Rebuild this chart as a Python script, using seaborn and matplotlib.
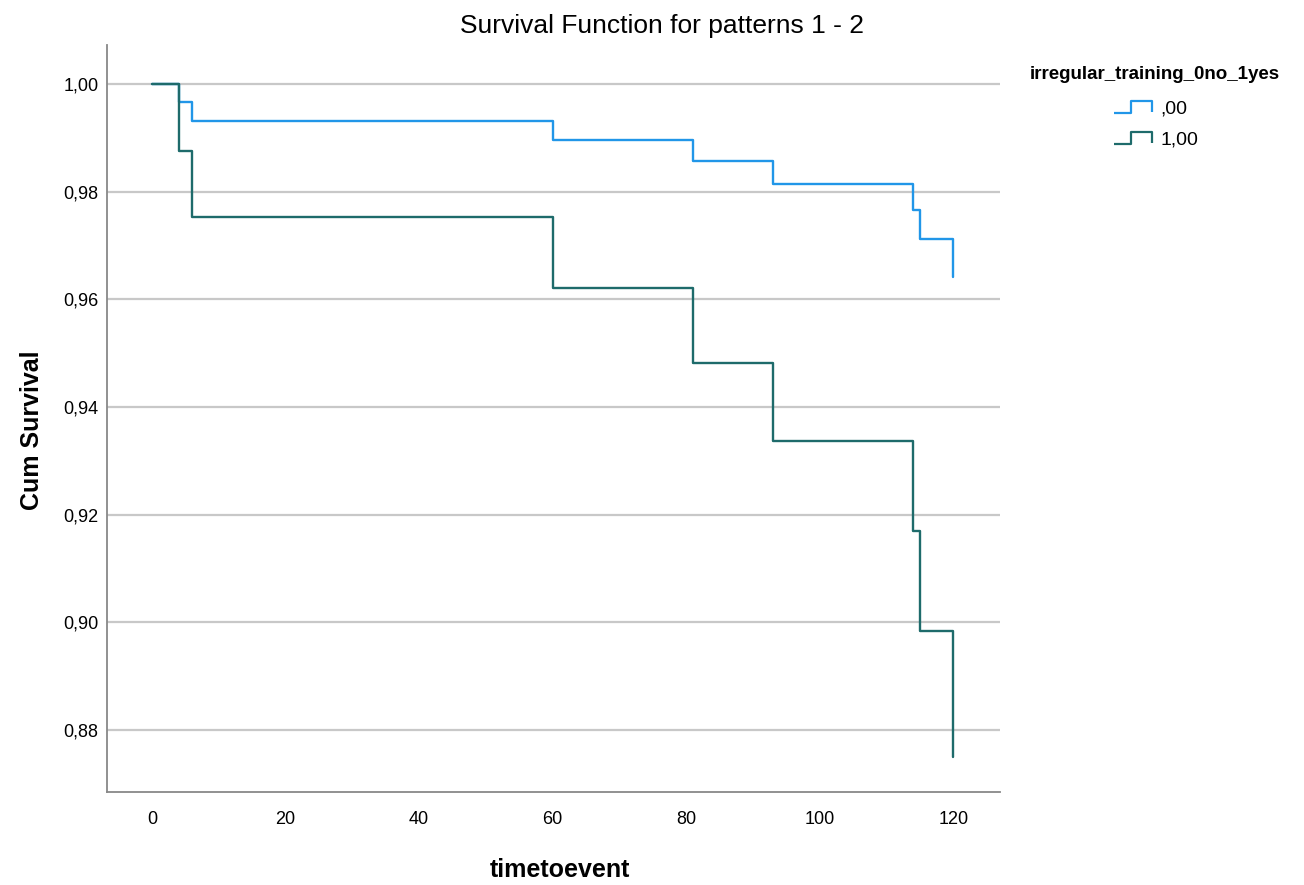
import seaborn as sns
import matplotlib.pyplot as plt
import pandas as pd
import numpy as np
from matplotlib.path import Path
from matplotlib.lines import Line2D

# step points (steps-post)
time_no = [0, 4, 6, 60, 81, 93, 114, 115, 120]
surv_no = [1.0, 0.9967, 0.9931, 0.9896, 0.9857, 0.9814, 0.9766, 0.9712, 0.9641]
time_yes = [0, 4, 6, 60, 81, 93, 114, 115, 120]
surv_yes = [1.0, 0.9876, 0.9753, 0.9621, 0.9482, 0.9337, 0.9170, 0.8984, 0.8750]
group_labels = [',00', '1,00']
group_colors = ['#2196e8', '#1e6b6b']

y_ticks = [0.88, 0.90, 0.92, 0.94, 0.96, 0.98, 1.00]
y_ticklabels = ['0,88', '0,90', '0,92', '0,94', '0,96', '0,98', '1,00']
x_ticks = [0, 20, 40, 60, 80, 100, 120]

df = pd.DataFrame({
    'timetoevent': time_no + time_yes,
    'survival': surv_no + surv_yes,
    'group': [group_labels[0]] * len(time_no) + [group_labels[1]] * len(time_yes),
})

sns.set_style("white")
plt.rcParams['font.family'] = ['Liberation Sans', 'DejaVu Sans']
plt.rcParams['text.color'] = 'black'
plt.rcParams['xtick.color'] = 'black'
plt.rcParams['ytick.color'] = 'black'

fig = plt.figure(figsize=(13.04, 8.85), dpi=100)
ax = fig.add_axes([0.082, 0.1051, 0.685, 0.8441])

for yt in y_ticks:
    ax.axhline(yt, color='#c8c8c8', lw=1.6, zorder=0)

sns.lineplot(data=df, x='timetoevent', y='survival', hue='group',
             palette=dict(zip(group_labels, group_colors)), estimator=None,
             drawstyle='steps-post', linewidth=1.7, legend=False, ax=ax)

ax.set_xlim(-6.74, 127.0)
ax.set_ylim(0.8685, 1.00725)
ax.set_xticks(x_ticks)
ax.set_yticks(y_ticks)
ax.set_yticklabels(y_ticklabels)
ax.tick_params(axis='both', length=0, labelsize=13)
ax.tick_params(axis='y', pad=6)
ax.tick_params(axis='x', pad=14)

sns.despine(ax=ax, top=True, right=True)
for s in ['left', 'bottom']:
    ax.spines[s].set_color('#888888')
    ax.spines[s].set_linewidth(1.3)

ax.set_xlabel('')
ax.set_ylabel('')
fig.text(560 / 1304, 1 - 870 / 885, 'timetoevent', ha='center', va='center',
         fontsize=18, fontweight='bold')
fig.text(32 / 1304, 1 - 430 / 885, 'Cum Survival', ha='center', va='center',
         rotation=90, fontsize=18, fontweight='bold')
fig.text(662 / 1304, 1 - 26 / 885, 'Survival Function for patterns 1 - 2', ha='center',
         va='center', fontsize=19, fontweight='medium')

# step-shaped legend symbols
step_path = Path([(-1.0, -0.3), (-0.1, -0.3), (-0.1, 0.3), (1.0, 0.3), (1.0, -0.25)],
                 [Path.MOVETO, Path.LINETO, Path.LINETO, Path.LINETO, Path.LINETO])
handles = [Line2D([], [], linestyle='none', marker=step_path, markersize=28,
                  markerfacecolor='none', markeredgecolor=c, markeredgewidth=1.6)
           for c in group_colors]
leg = fig.legend(handles, group_labels, title='irregular_training_0no_1yes',
                 loc='upper left', bbox_to_anchor=(0.776, 0.945), frameon=False,
                 fontsize=14, title_fontproperties={'weight': 'bold', 'size': 13.5},
                 handletextpad=0.3, labelspacing=0.7, handlelength=2.3)
leg._legend_box.align = 'center'
leg._legend_box.sep = 12

plt.savefig('out.png', dpi=100)
